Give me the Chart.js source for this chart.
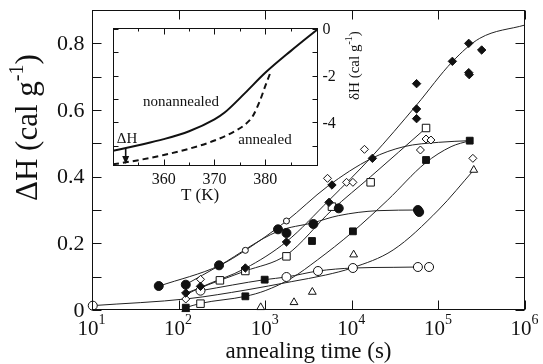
<!DOCTYPE html>
<html>
<head>
<meta charset="utf-8">
<script src="https://cdn.jsdelivr.net/npm/chart.js@4.4.1/dist/chart.umd.min.js"></script>
<style>
  html, body { margin: 0; padding: 0; background: #fff; }
  #wrap { position: relative; width: 543px; height: 364px; }
  canvas { position: absolute; left: 0; top: 0; }
</style>
</head>
<body>
<div id="wrap">
  <canvas id="main" width="543" height="364"></canvas>
  <canvas id="inset" width="543" height="364"></canvas>
</div>
<script>
/* ── Main plot: annealing time (s) vs ΔH (cal/g) ───────────── */
const xTickVals = [1e1, 1e2, 1e3, 1e4, 1e5, 1e6];
const xTickExp  = ['1', '2', '3', '4', '5', '6'];
const yTickVals = [0, 0.1, 0.2, 0.3, 0.4, 0.5, 0.6, 0.7, 0.8, 0.9];
const yLabelVals = [0, 0.2, 0.4, 0.6, 0.8];
const yLabels    = ['0', '0.2', '0.4', '0.6', '0.8'];

/* measured points [time, ΔH] */
const filledCircles    = [[59,0.072],[121,0.076],[293,0.134],[1406,0.242],[1760,0.231],[3600,0.258],[7070,0.305],[5.8e4,0.300],[6.0e4,0.294]];
const filledDiamonds   = [[121,0.051],[179,0.071],[590,0.126],[1760,0.204],[5460,0.323],[5900,0.375],[1.73e4,0.455],[5.6e4,0.679],[5.6e4,0.603],[5.6e4,0.574],[1.45e5,0.746],[2.24e5,0.800],[3.16e5,0.780],[2.24e5,0.712],[2.27e5,0.706]];
const openDiamonds     = [[121,0.033],[179,0.092],[5240,0.395],[8700,0.383],[1.03e4,0.383],[1.4e4,0.482],[6.2e4,0.480],[7.2e4,0.513],[8.2e4,0.510],[2.5e5,0.455]];
const smallOpenCircles = [[590,0.179],[1760,0.267]];
const openSquares      = [[179,0.019],[300,0.089],[590,0.117],[1760,0.161],[5900,0.310],[1.65e4,0.383],[7.2e4,0.546]];
const filledSquares    = [[121,0.007],[590,0.041],[986,0.091],[3470,0.207],[1.03e4,0.236],[7.2e4,0.450],[2.3e5,0.508]];
const openCircles      = [[10.2,0.013],[179,0.058],[1760,0.099],[4070,0.117],[1.03e4,0.126],[5.8e4,0.129],[7.8e4,0.129]];
const openTriangles    = [[121,0.002],[887,0.008],[2150,0.023],[3500,0.054],[1.05e4,0.166],[2.56e5,0.420]];

/* fitted curves */
const fitDiamond   = [[120,0.045],[180,0.068],[590,0.125],[1760,0.205],[5500,0.33],[1.7e4,0.46],[5.6e4,0.615],[1.45e5,0.745],[3e5,0.815],[1e6,0.855]];
const fitPlateau5  = [[60,0.072],[300,0.134],[590,0.179],[1760,0.267],[5200,0.37],[1.7e4,0.455],[4e4,0.49],[1e5,0.503],[2.3e5,0.508]];
const fitPlateau3  = [[120,0.076],[300,0.134],[1400,0.236],[3600,0.262],[7000,0.283],[2e4,0.298],[6e4,0.300]];
const fitSquare    = [[120,0.05],[300,0.089],[590,0.117],[1760,0.165],[5900,0.30],[1.65e4,0.40],[7.2e4,0.546]];
const fitFilledSq  = [[120,0.007],[180,0.02],[590,0.041],[1000,0.058],[2000,0.095],[4000,0.15],[1e4,0.232],[2.6e4,0.33],[7e4,0.44],[1.4e5,0.49],[2.3e5,0.508]];
const fitCircle    = [[180,0.058],[986,0.091],[1760,0.099],[4070,0.117],[1.03e4,0.126],[3e4,0.128],[6e4,0.129]];
const fitTriangle  = [[10,0.013],[130,0.034],[600,0.06],[2000,0.085],[5000,0.105],[1e4,0.126],[3e4,0.18],[1e5,0.30],[2.56e5,0.42]];

/* ── Inset: T (K) vs δH (cal/g) ────────────────────────────── */
const insetXTicks  = [360, 370, 380];
const insetXMinor  = [355, 365, 375, 385];
const insetYTicks  = [0, -1, -2, -3, -4, -5];
const insetYLabels = [0, -2, -4];
const nonannealedT = [350, 355, 360, 365, 370, 372, 376, 380, 385, 390.4];
const nonannealed  = [-5.22, -4.98, -4.72, -4.38, -3.87, -3.58, -2.75, -1.88, -0.95, 0];
const annealedT    = [350, 355, 360, 365, 370, 374, 376, 377.5, 379, 380, 381];
const annealed     = [-5.8, -5.62, -5.4, -5.13, -4.78, -4.38, -4.1, -3.75, -3.05, -2.45, -1.88];
const arrowT = 352.5, arrowFrom = -5.12, arrowTo = -5.78;

const SERIF = '"Liberation Serif", "Times New Roman", serif';
const INK = '#111';

const toXY = arr => arr.map(p => ({ x: p[0], y: p[1] }));

/* draws a run of text pieces (for superscripts), optionally rotated */
function richText(ctx, x, y, angle, parts, align) {
  ctx.save();
  ctx.translate(x, y);
  ctx.rotate(angle);
  let total = 0;
  parts.forEach(p => { ctx.font = p.size + 'px ' + SERIF; p.w = ctx.measureText(p.t).width; total += p.w; });
  let cx = align === 'center' ? -total / 2 : 0;
  ctx.textAlign = 'left';
  ctx.textBaseline = 'alphabetic';
  parts.forEach(p => {
    ctx.font = p.size + 'px ' + SERIF;
    ctx.fillText(p.t, cx, p.dy || 0);
    cx += p.w;
  });
  ctx.restore();
}

function markers(label, pts, style, r, fill) {
  return {
    label, data: toXY(pts), showLine: false, order: 0, clip: false,
    pointStyle: style, pointRadius: r, pointBorderWidth: 1,
    pointBorderColor: INK, pointBackgroundColor: fill,
  };
}
function curve(label, pts) {
  return {
    label, data: toXY(pts), showLine: true, order: 1, clip: false,
    borderColor: '#222', borderWidth: 1, pointRadius: 0,
    cubicInterpolationMode: 'monotone',
  };
}

/* ── frame, inward ticks and labels of the main plot ─────────── */
const mainFrame = {
  id: 'mainFrame',
  afterDraw(chart) {
    const { ctx, chartArea: a, scales: { x, y } } = chart;
    const L = Math.round(a.left) + 0.5, R = Math.round(a.right) - 0.5;
    const T = Math.round(a.top) + 0.5,  B = Math.round(a.bottom) - 0.5;
    ctx.save();
    ctx.strokeStyle = INK;
    ctx.lineWidth = 1;
    ctx.strokeRect(L, T, R - L, B - T);
    ctx.beginPath();
    xTickVals.forEach(v => {
      const px = Math.round(x.getPixelForValue(v)) + 0.5;
      ctx.moveTo(px, B); ctx.lineTo(px, B - 9);
      ctx.moveTo(px, T); ctx.lineTo(px, T + 9);
    });
    yTickVals.forEach(v => {
      const py = Math.round(y.getPixelForValue(v)) + 0.5;
      ctx.moveTo(L, py); ctx.lineTo(L + 9, py);
      ctx.moveTo(R, py); ctx.lineTo(R - 9, py);
    });
    ctx.stroke();

    ctx.fillStyle = INK;
    ctx.font = '22px ' + SERIF;
    ctx.textAlign = 'right';
    ctx.textBaseline = 'middle';
    yLabelVals.forEach((v, i) => ctx.fillText(yLabels[i], L - 8, y.getPixelForValue(v) + 1));

    xTickVals.forEach((v, i) => {
      const px = x.getPixelForValue(v);
      ctx.font = '21px ' + SERIF;
      const w1 = ctx.measureText('10').width;
      ctx.font = '14px ' + SERIF;
      const w2 = ctx.measureText(xTickExp[i]).width;
      richText(ctx, px - (w1 + w2 + 1) / 2, 335, 0,
        [{ t: '10', size: 21 }, { t: xTickExp[i], size: 14, dy: -11 }], 'left');
    });

    richText(ctx, (L + R) / 2, 358, 0, [{ t: 'annealing time (s)', size: 23 }], 'center');
    richText(ctx, 37, 201, -Math.PI / 2,
      [{ t: 'ΔH (cal g', size: 31 }, { t: '-1', size: 20, dy: -14 }, { t: ')', size: 31 }], 'left');
    ctx.restore();
  }
};

new Chart(document.getElementById('main'), {
  type: 'scatter',
  data: {
    datasets: [
      markers('filled circles', filledCircles, 'circle', 4.5, INK),
      markers('filled diamonds', filledDiamonds, 'rectRot', 4.2, INK),
      markers('open diamonds', openDiamonds, 'rectRot', 4, '#fff'),
      markers('small open circles', smallOpenCircles, 'circle', 3, '#fff'),
      markers('open squares', openSquares, 'rect', 5.3, '#fff'),
      markers('filled squares', filledSquares, 'rect', 4.8, INK),
      markers('open circles', openCircles, 'circle', 4.5, '#fff'),
      markers('open triangles', openTriangles, 'triangle', 4.5, '#fff'),
      curve('fit diamonds', fitDiamond),
      curve('fit plateau 0.5', fitPlateau5),
      curve('fit plateau 0.3', fitPlateau3),
      curve('fit open squares', fitSquare),
      curve('fit filled squares', fitFilledSq),
      curve('fit open circles', fitCircle),
      curve('fit triangles', fitTriangle),
    ]
  },
  options: {
    responsive: false,
    animation: false,
    events: [],
    layout: { padding: { left: 92, right: 18, top: 10, bottom: 54 } },
    plugins: { legend: { display: false }, tooltip: { enabled: false } },
    scales: {
      x: { type: 'logarithmic', min: 10, max: 1e6, display: false },
      y: { type: 'linear', min: 0, max: 0.9, display: false },
    }
  },
  plugins: [mainFrame]
});

/* ── inset chart ─────────────────────────────────────────────── */
const insetFrame = {
  id: 'insetFrame',
  beforeDraw(chart) {
    const { ctx, chartArea: a } = chart;
    ctx.save();
    ctx.fillStyle = '#fff';
    ctx.fillRect(a.left, a.top, a.right - a.left, a.bottom - a.top);
    ctx.restore();
  },
  afterDraw(chart) {
    const { ctx, chartArea: a, scales: { x, y } } = chart;
    const L = Math.round(a.left) + 0.5, R = Math.round(a.right) - 0.5;
    const T = Math.round(a.top) + 0.5,  B = Math.round(a.bottom) - 0.5;
    ctx.save();
    ctx.strokeStyle = INK;
    ctx.lineWidth = 1;
    ctx.strokeRect(L, T, R - L, B - T);
    ctx.beginPath();
    insetXTicks.forEach(v => {
      const px = Math.round(x.getPixelForValue(v)) + 0.5;
      ctx.moveTo(px, B); ctx.lineTo(px, B - 6);
      ctx.moveTo(px, T); ctx.lineTo(px, T + 6);
    });
    insetXMinor.forEach(v => {
      const px = Math.round(x.getPixelForValue(v)) + 0.5;
      ctx.moveTo(px, B); ctx.lineTo(px, B - 3);
      ctx.moveTo(px, T); ctx.lineTo(px, T + 3);
    });
    insetYTicks.forEach(v => {
      const py = Math.round(y.getPixelForValue(v)) + 0.5;
      ctx.moveTo(L, py); ctx.lineTo(L + 5, py);
      ctx.moveTo(R, py); ctx.lineTo(R - 5, py);
    });
    ctx.stroke();

    /* ΔH arrow between the two curves */
    const ax = x.getPixelForValue(arrowT);
    const y0 = y.getPixelForValue(arrowFrom), y1 = y.getPixelForValue(arrowTo);
    ctx.lineWidth = 1.6;
    ctx.beginPath(); ctx.moveTo(ax, y0); ctx.lineTo(ax, y1 - 4); ctx.stroke();
    ctx.fillStyle = INK;
    ctx.beginPath(); ctx.moveTo(ax - 3.5, y1 - 8); ctx.lineTo(ax + 3.5, y1 - 8); ctx.lineTo(ax, y1); ctx.closePath(); ctx.fill();

    ctx.font = '16px ' + SERIF;
    ctx.textAlign = 'center';
    ctx.textBaseline = 'middle';
    insetXTicks.forEach(v => ctx.fillText(String(v), x.getPixelForValue(v), 180));
    ctx.textAlign = 'left';
    insetYLabels.forEach(v => ctx.fillText(v === 0 ? '0' : '-' + Math.abs(v), R + 5, y.getPixelForValue(v) + 1));

    richText(ctx, 200, 200, 0, [{ t: 'T (K)', size: 17 }], 'center');
    richText(ctx, 181, 106, 0, [{ t: 'nonannealed', size: 15 }], 'center');
    richText(ctx, 265, 144, 0, [{ t: 'annealed', size: 15 }], 'center');
    richText(ctx, 127, 143, 0, [{ t: 'ΔH', size: 15 }], 'center');
    richText(ctx, 359, 100, -Math.PI / 2,
      [{ t: 'δH (cal g', size: 15 }, { t: '-1', size: 10, dy: -7 }, { t: ')', size: 15 }], 'left');
    ctx.restore();
  }
};

new Chart(document.getElementById('inset'), {
  type: 'scatter',
  data: {
    datasets: [
      {
        label: 'nonannealed',
        data: nonannealedT.map((t, i) => ({ x: t, y: nonannealed[i] })),
        showLine: true, borderColor: INK, borderWidth: 2, pointRadius: 0,
        cubicInterpolationMode: 'monotone',
      },
      {
        label: 'annealed',
        data: annealedT.map((t, i) => ({ x: t, y: annealed[i] })),
        showLine: true, borderColor: INK, borderWidth: 2, borderDash: [6, 4], pointRadius: 0,
        cubicInterpolationMode: 'monotone',
      },
    ]
  },
  options: {
    responsive: false,
    animation: false,
    events: [],
    layout: { padding: { left: 113, right: 225, top: 28, bottom: 198 } },
    plugins: { legend: { display: false }, tooltip: { enabled: false } },
    scales: {
      x: { type: 'linear', min: 350, max: 390.4, display: false },
      y: { type: 'linear', min: -5.87, max: 0.04, display: false },
    }
  },
  plugins: [insetFrame]
});
</script>
</body>
</html>
